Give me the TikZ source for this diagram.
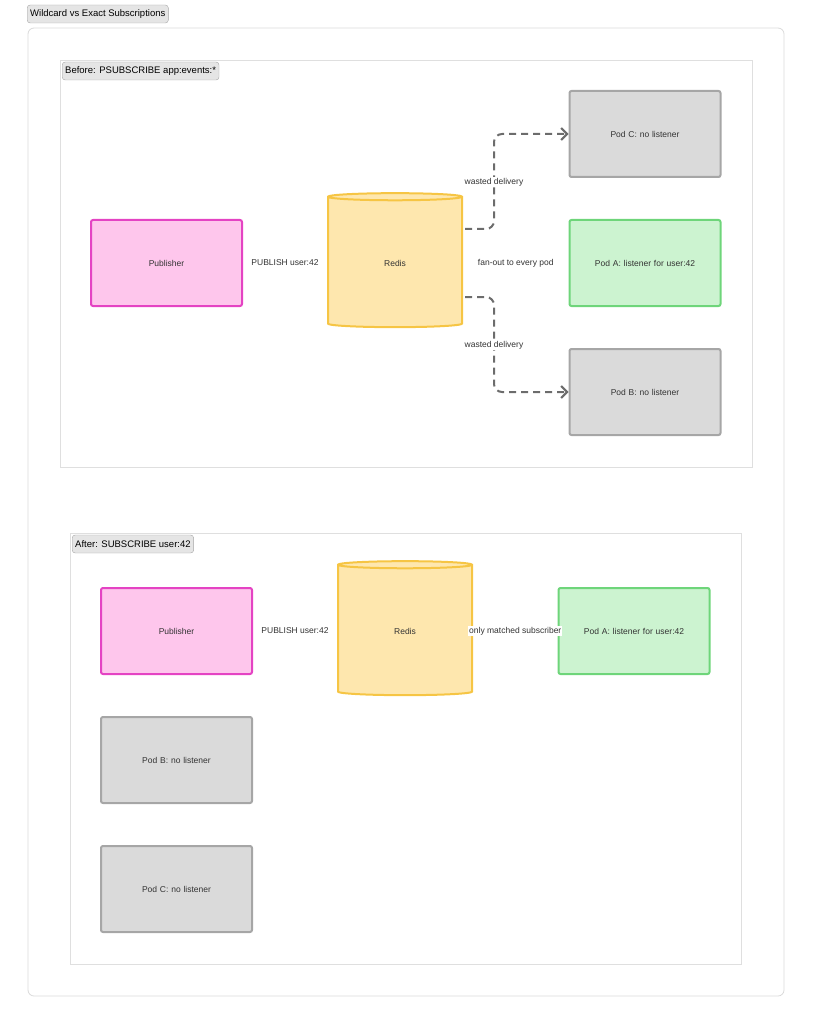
\documentclass[tikz,border=0pt]{standalone}
\usepackage{fontspec}
\setmainfont{Liberation Sans}
\usetikzlibrary{shapes.geometric,arrows.meta}
\definecolor{pinkf}{HTML}{FEC6EC}\definecolor{pinkd}{HTML}{E443C3}
\definecolor{yelf}{HTML}{FEE7AE}\definecolor{yeld}{HTML}{F6C544}
\definecolor{grnf}{HTML}{CCF3D0}\definecolor{grnd}{HTML}{6ED57A}
\definecolor{gryf}{HTML}{DADADA}\definecolor{gryd}{HTML}{A6A6A6}
\definecolor{txt}{HTML}{333333}
\tikzset{
 box/.style={draw, line width=2pt, rounded corners=2pt, minimum width=151pt, minimum height=86pt, align=center, font=\fontsize{8.5}{11}\selectfont, text=txt, text width=120pt},
 pub/.style={box, fill=pinkf, draw=pinkd},
 poda/.style={box, fill=grnf, draw=grnd},
 podx/.style={box, fill=gryf, draw=gryd},
 db/.style={cylinder, shape border rotate=90, aspect=0.25, draw=yeld, fill=yelf, line width=2pt, minimum width=134pt, minimum height=134pt, font=\fontsize{8.5}{11}\selectfont, text=txt},
 tag/.style={draw=gryd, fill=gryf!70, rounded corners=3pt, font=\fontsize{9.5}{11}\selectfont, text=black, anchor=west, inner sep=3pt, minimum height=18pt},
 lbl/.style={font=\fontsize{8.5}{11}\selectfont, text=txt, fill=white, inner sep=1pt},
 wasted/.style={draw=gray!85!black, line width=2pt, dash pattern=on 7pt off 5pt, rounded corners=8pt, -{Straight Barb[length=6pt,width=12pt]}}
}
\begin{document}
\begin{tikzpicture}[x=1pt,y=-1pt]
\useasboundingbox (0,0) rectangle (812,1024);
\draw[gray!30, rounded corners=6pt, line width=0.8pt] (28,28) rectangle (784,996);
\node[tag] (t0) at (27,14) {Wildcard vs Exact Subscriptions};
% Before
\draw[gray!25, line width=0.8pt] (60,60) rectangle (752,467);
\node[tag] (t1) at (62,71) {Before: PSUBSCRIBE app:events:*};
\node[pub] (p1) at (166.5,263) {Publisher};
\node[db] (r1) at (395,263) {Redis};
\node[podx] (c1) at (645,134) {Pod C: no listener};
\node[poda] (a1) at (645,263) {Pod A: listener for user:42};
\node[podx] (b1) at (645,392) {Pod B: no listener};
\path (p1.east) -- node[lbl] {PUBLISH user:42} (r1.west);
\path (r1.east) -- node[lbl] {fan-out to every pod} (a1.west);
\coordinate (s1) at (465,229); \coordinate (s2) at (465,297);
\draw[wasted] (s1) -- (494,229) -- (494,134) -- (c1.west);
\draw[wasted] (s2) -- (494,297) -- (494,392) -- (b1.west);
\node[lbl] (w1) at (494,182) {wasted delivery};
\node[lbl] (w2) at (494,345) {wasted delivery};
% After
\draw[gray!25, line width=0.8pt] (70,533) rectangle (741,964);
\node[tag] (t2) at (72,544) {After: SUBSCRIBE user:42};
\node[pub] (p2) at (176.5,631) {Publisher};
\node[db] (r2) at (405,631) {Redis};
\node[poda] (a2) at (634,631) {Pod A: listener for user:42};
\node[podx] (b2) at (176.5,760) {Pod B: no listener};
\node[podx] (c2) at (176.5,889) {Pod C: no listener};
\path (p2.east) -- node[lbl] {PUBLISH user:42} (r2.west);
\path (r2.east) -- node[lbl] {only matched subscriber} (a2.west);
\end{tikzpicture}
\end{document}
